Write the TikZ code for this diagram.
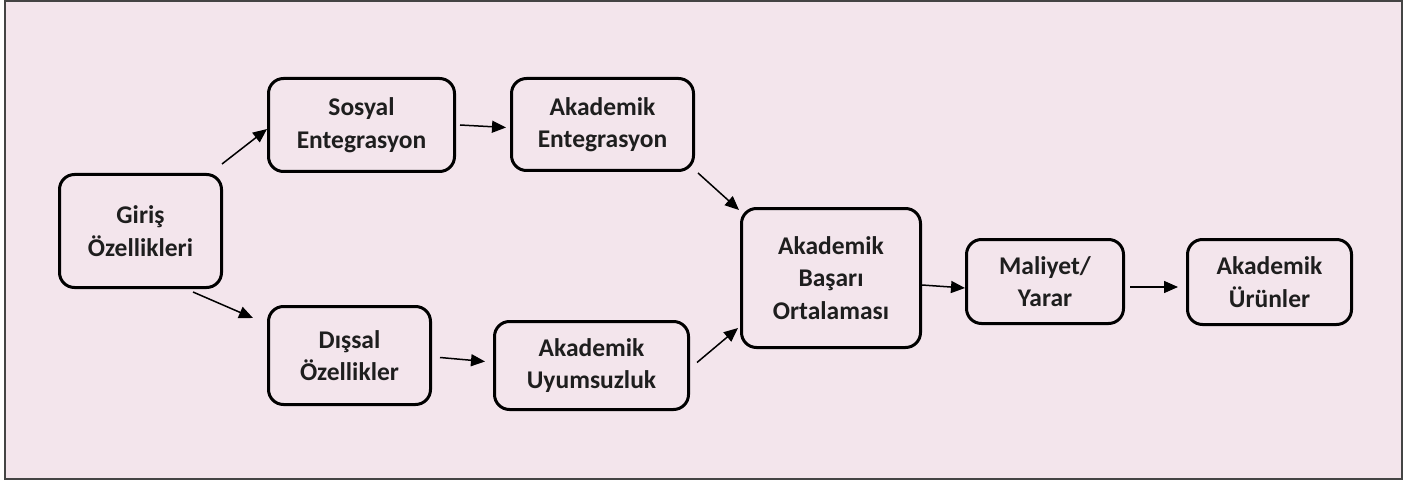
\documentclass[tikz,border=0pt]{standalone}
\usepackage{fontspec}
\setmainfont{Carlito}
\usetikzlibrary{arrows.meta}
\definecolor{bgpink}{HTML}{F3E5EC}
\definecolor{frame}{HTML}{444444}
\definecolor{txt}{HTML}{1E1E1E}
\begin{document}
\begin{tikzpicture}[x=1pt,y=-1pt,
  box/.style={draw=black,line width=3pt,rounded corners=15pt,align=center,
    font=\fontsize{25.5}{32.5}\selectfont\bfseries,text=txt,inner sep=0pt},
  arr/.style={line width=1.5pt,-{Triangle[length=14pt,width=12pt]}}]
\useasboundingbox (0,0) rectangle (1407,481);
\fill[white] (0,0) rectangle (1407,481);
\draw[frame,line width=2pt,fill=bgpink] (5,1) rectangle (1402,479);
\node[box,minimum width=162pt,minimum height=113pt] (gi) at (140.5,231) {Giriş\\Özellikleri};
\node[box,minimum width=186pt,minimum height=93pt] (so) at (361.5,125) {Sosyal\\Entegrasyon};
\node[box,minimum width=182pt,minimum height=92pt] (ae) at (602.5,124.5) {Akademik\\Entegrasyon};
\node[box,minimum width=162pt,minimum height=98pt] (ds) at (349.5,355.5) {Dışsal\\Özellikler};
\node[box,minimum width=194pt,minimum height=88pt] (uy) at (591.5,365.5) {Akademik\\Uyumsuzluk};
\node[box,minimum width=179pt,minimum height=139pt] (abo) at (831,278) {Akademik\\Başarı\\Ortalaması};
\node[box,minimum width=157pt,minimum height=84pt] (ml) at (1045,281.5) {Maliyet/\\Yarar};
\node[box,minimum width=164pt,minimum height=85pt] (ur) at (1269.5,282) {Akademik\\Ürünler};
\draw[arr] ([xshift=-1pt,yshift=9pt]gi.north east) -- ([yshift=-4pt]so.west);
\draw[arr] ([xshift=-30pt,yshift=-3pt]gi.south east) -- ([xshift=-14pt,yshift=-13pt]ds.north west);
\draw[arr] ([xshift=4pt]so.east) -- ([xshift=-4pt,yshift=-3pt]ae.west);
\draw[arr] ([xshift=3pt,yshift=-1pt]ae.south east) -- ([xshift=-1pt,yshift=-3pt]abo.north west);
\draw[arr] ([xshift=8pt,yshift=-2pt]ds.east) -- ([xshift=-8pt,yshift=4pt]uy.west);
\draw[arr] ([xshift=7pt,yshift=3pt]uy.east) -- ([xshift=-2pt,yshift=21pt]abo.south west);
\draw[arr] ([yshift=-7pt]abo.east) -- ([yshift=-6.5pt]ml.west);
\draw[arr] ([xshift=5pt,yshift=-5.5pt]ml.east) -- ([xshift=-8pt,yshift=-5pt]ur.west);
\end{tikzpicture}
\end{document}
